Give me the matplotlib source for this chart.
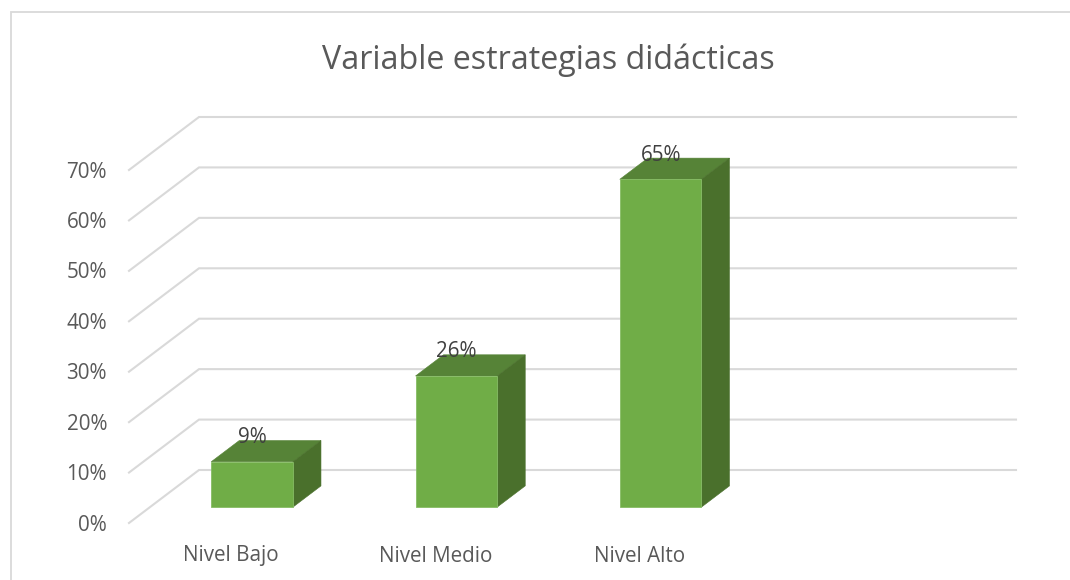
import matplotlib.pyplot as plt
from matplotlib.lines import Line2D
from matplotlib.patches import Polygon

# Data
categories = ["Nivel Bajo", "Nivel Medio", "Nivel Alto"]
values = [9, 26, 65]
yticks = [0, 10, 20, 30, 40, 50, 60, 70]
n_slots = 4

# Colors
GRID = "#D9D9D9"
TEXT = "#595959"
LABEL = "#404040"
FRONT = "#70AD47"
TOP = "#568337"
SIDE = "#4A702C"

W, H = 1070, 580
plt.rcParams['font.family'] = ['Open Sans', 'DejaVu Sans']

fig = plt.figure(figsize=(W / 100, H / 100), dpi=100)
# front plane of the chart in pixels: x 129-946, y 523-170
ax = fig.add_axes([129 / W, 1 - 523 / H, 817 / W, 353 / H])
ax.set_xlim(0, n_slots)
ax.set_ylim(0, 70)
ax.axis("off")

# depth of the floor, in data units
DX = 70 / (817 / n_slots)
DY = 53 / (353 / 70)
BAR_W = 0.40


def proj(x, y, d):
    # oblique projection, d=0 front wall, d=1 back wall
    return (x + DX * d, y + DY * d)


# Grid
for t in yticks:
    xs, ys = zip(proj(0, t, 0), proj(0, t, 1), proj(n_slots, t, 1))
    ax.plot(xs, ys, color=GRID, lw=1.5, clip_on=False, zorder=1,
            solid_joinstyle="miter")
    ax.annotate(f"{t}%", (0, t), xytext=(-22 * 0.72, -1.5),
                textcoords="offset points", ha="right", va="center",
                fontsize=14.9, color=TEXT, annotation_clip=False)

# Bars
d0, d1 = 0.3, 0.7
for i, (cat, v) in enumerate(zip(categories, values)):
    c = i + 0.5
    l, r = c - BAR_W / 2, c + BAR_W / 2
    front = [proj(l, 0, d0), proj(r, 0, d0), proj(r, v, d0), proj(l, v, d0)]
    top = [proj(l, v, d0), proj(r, v, d0), proj(r, v, d1), proj(l, v, d1)]
    side = [proj(r, 0, d0), proj(r, 0, d1), proj(r, v, d1), proj(r, v, d0)]
    ax.add_patch(Polygon(top, facecolor=TOP, edgecolor=TOP, lw=0.4,
                         clip_on=False, zorder=2))
    ax.add_patch(Polygon(side, facecolor=SIDE, edgecolor=SIDE, lw=0.4,
                         clip_on=False, zorder=2))
    ax.add_patch(Polygon(front, facecolor=FRONT, edgecolor="#86BC65", lw=0.6,
                         clip_on=False, zorder=3))
    # data label
    ax.annotate(f"{v}%", proj(c, v, d0), xytext=(0, 24 * 0.72),
                textcoords="offset points", ha="center", va="center",
                fontsize=14.9, color=LABEL, zorder=4, annotation_clip=False)
    # category label
    ax.annotate(cat, (c, 0), xytext=(0, -33 * 0.72),
                textcoords="offset points", ha="center", va="center",
                fontsize=14.9, color=TEXT, annotation_clip=False)

# Title
fig.text(548.5 / W, 1 - 60 / H, "Variable estrategias didácticas", ha="center",
         va="center", fontsize=23.2, color=TEXT)

# Chart frame, only top and left are in the picture
fig.add_artist(Line2D([11 / W, 11 / W, 1], [0, 1 - 11.5 / H, 1 - 11.5 / H],
                      color=GRID, lw=1.3, solid_joinstyle="miter"))

fig.savefig("out.png", dpi=100)
